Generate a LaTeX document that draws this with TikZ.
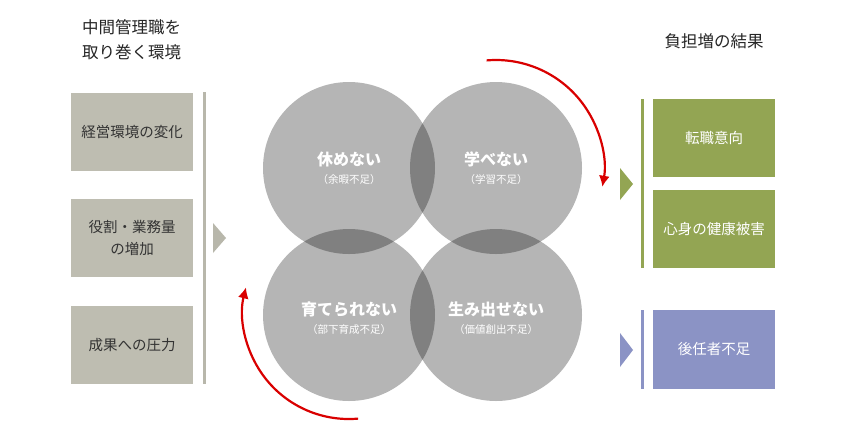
\documentclass[tikz,border=0pt]{standalone}
\usepackage{fontspec}
\setmainfont{Noto Sans CJK JP}
\begin{document}
\begin{tikzpicture}[x=1pt,y=-1pt,
  envbox/.style={fill=envc,draw=none,minimum width=122pt,minimum height=78pt,align=center,text=black!80,font=\fontsize{14.5}{22}\selectfont,inner sep=0},
  resbox/.style={draw=none,minimum width=122pt,minimum height=78pt,align=center,text=white,font=\fontsize{14.5}{18}\selectfont,inner sep=0},
  circ/.style={circle,fill=black,fill opacity=0.29,draw=none,minimum size=172pt,inner sep=0},
  clab/.style={text=white,align=center,font=\fontsize{16}{18}\selectfont\bfseries},
  sub/.style={text=white,font=\fontsize{10.5}{12}\selectfont},
  redarr/.style={draw=red!85!black,line width=2.2pt,-{Latex[length=11pt,width=11pt]}},
  ttl/.style={font=\fontsize{16.5}{25}\selectfont,text=black!85,align=left}]
\usetikzlibrary{arrows.meta}
\definecolor{envc}{HTML}{BEBDB1}
\definecolor{grn}{HTML}{93A553}
\definecolor{blu}{HTML}{8B93C5}
\definecolor{barc}{HTML}{B8B7AB}
\useasboundingbox (0,0) rectangle (846,440);
\fill[white] (0,0) rectangle (846,440);
% left
\node[ttl,anchor=north west,inner sep=0] (lt) at (82,19) {中間管理職を\\取り巻く環境};
\node[envbox] (e1) at (132,131.5) {経営環境の変化};
\node[envbox] (e2) at (132,238) {役割・業務量\\の増加};
\node[envbox] (e3) at (132,345) {成果への圧力};
\fill[barc] (203,92) rectangle (206,384);
\fill[barc] (213,223) -- (226,238) -- (213,253) -- cycle;
% circles
\node[circ] (c1) at (349,168) {};
\node[circ] (c2) at (496,168) {};
\node[circ] (c3) at (349,315) {};
\node[circ] (c4) at (496,315) {};
\node[clab] (t1) at (349,159) {休めない};
\node[sub] (s1) at (349,180) {（余暇不足）};
\node[clab] (t2) at (496,159) {学べない};
\node[sub] (s2) at (496,180) {（学習不足）};
\node[clab] (t3) at (349,309) {育てられない};
\node[sub] (s3) at (349,330) {（部下育成不足）};
\node[clab] (t4) at (496,309) {生み出せない};
\node[sub] (s4) at (496,330) {（価値創出不足）};
% red arrows
\coordinate (ca) at (496,168);
\coordinate (cb) at (349,315);
\draw[redarr] ([shift={(-95:108)}]ca) arc[start angle=-95,end angle=10,radius=108];
\draw[redarr] ([shift={(85:104)}]cb) arc[start angle=85,end angle=194,radius=106];
% right
\node[ttl,anchor=center] (rt) at (714,41) {負担増の結果};
\fill[grn] (641,99) rectangle (644,268);
\fill[grn] (620,168) -- (633,184) -- (620,200) -- cycle;
\node[resbox,fill=grn] (r1) at (714,138) {転職意向};
\node[resbox,fill=grn] (r2) at (714,229) {心身の健康被害};
\fill[blu] (641,310) rectangle (644,389);
\fill[blu] (620,333) -- (633,350) -- (620,367) -- cycle;
\node[resbox,fill=blu,minimum height=79pt] (r3) at (714,349.5) {後任者不足};
\end{tikzpicture}
\end{document}
